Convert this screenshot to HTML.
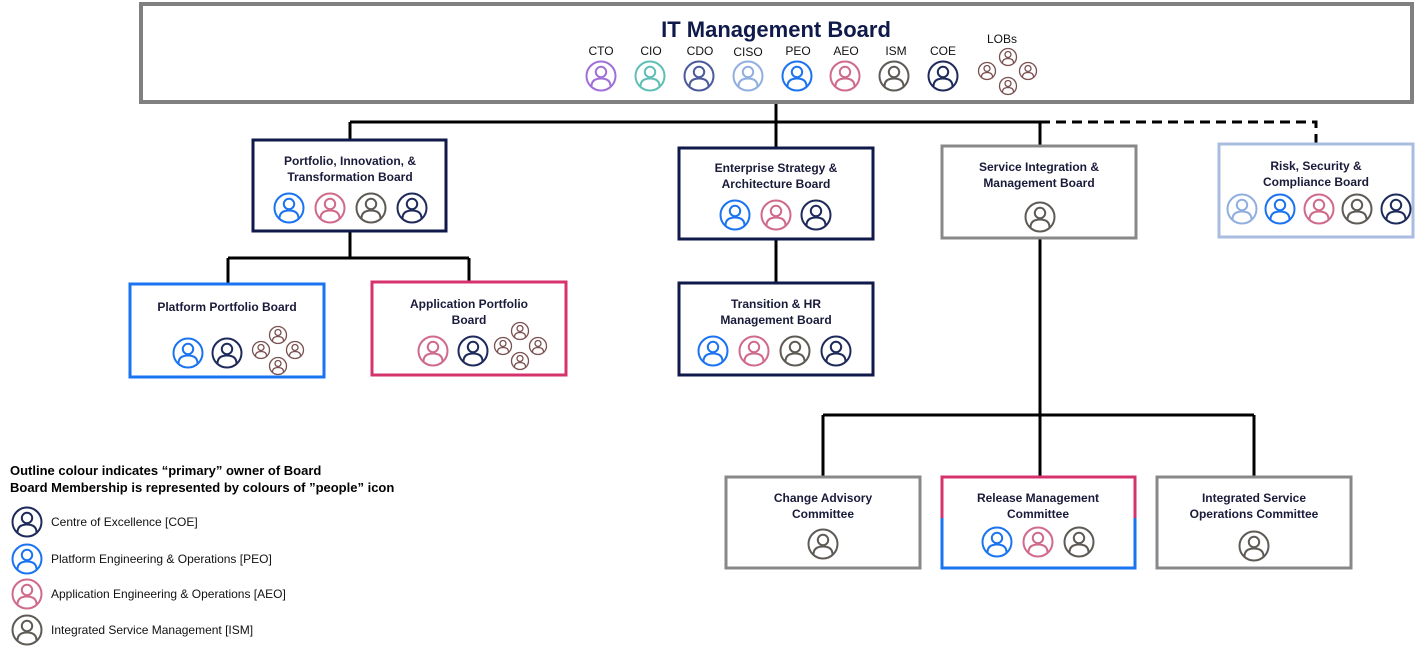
<!DOCTYPE html>
<html><head><meta charset="utf-8"><style>
html,body{margin:0;padding:0;background:#fff;}
svg{display:block;}
text{font-family:"Liberation Sans",sans-serif;}
.t{font-size:12px;font-weight:bold;fill:#1a1a3a;text-anchor:middle;}
.l{font-size:12px;fill:#111;text-anchor:middle;}
.lg{font-size:12px;fill:#111;}
</style></head><body>
<svg width="1415" height="648" viewBox="0 0 1415 648" xmlns="http://www.w3.org/2000/svg">
<defs>
<g id="p" fill="none" stroke="currentColor">
<circle r="14.5" stroke-width="2"/>
<circle cy="-4" r="5.2" stroke-width="2"/>
<path d="M-9.5,10.5 Q-9.5,2.5 0,2.5 Q9.5,2.5 9.5,10.5" stroke-width="2"/>
</g>
<g id="s" fill="none" stroke="#7a5050">
<circle r="8.5" stroke-width="1.3"/>
<circle cy="-2.5" r="3" stroke-width="1.3"/>
<path d="M-5.5,6 Q-5.5,1.5 0,1.5 Q5.5,1.5 5.5,6" stroke-width="1.3"/>
</g>
</defs>

<!-- connectors -->
<g stroke="#000" stroke-width="3" fill="none">
<path d="M776,103V122M350,122H1040M350,122V140M776,122V148M1040,122V146"/>
<path d="M350,232V258M228,258H469M228,258V285M469,258V283"/>
<path d="M776,239V283"/>
<path d="M1040,238V415M823,415H1254M823,415V477M1040,415V477M1254,415V477"/>
<path d="M1040,122H1316V143" stroke-dasharray="10,6"/>
</g>

<!-- top board -->
<rect x="141" y="4" width="1271" height="98" fill="#fff" stroke="#808080" stroke-width="4"/>
<text x="776" y="37" style="font-size:22px;font-weight:bold;fill:#0f1a4a;text-anchor:middle">IT Management Board</text>
<text class="l" x="601" y="55">CTO</text>
<text class="l" x="651" y="55">CIO</text>
<text class="l" x="700" y="55">CDO</text>
<text class="l" x="748" y="56">CISO</text>
<text class="l" x="798" y="55">PEO</text>
<text class="l" x="846" y="55">AEO</text>
<text class="l" x="896" y="55">ISM</text>
<text class="l" x="943" y="55">COE</text>
<text class="l" x="1002" y="43">LOBs</text>
<use href="#p" x="601" y="76" color="#a070d8"/>
<use href="#p" x="650" y="76" color="#5fbfb5"/>
<use href="#p" x="699" y="76" color="#4a5a9a"/>
<use href="#p" x="748" y="76" color="#90aee0"/>
<use href="#p" x="797" y="76" color="#1a73f0"/>
<use href="#p" x="845" y="76" color="#d06a8a"/>
<use href="#p" x="894" y="76" color="#5e5a55"/>
<use href="#p" x="943" y="76" color="#1e2a5a"/>
<use href="#s" x="1008" y="57"/><use href="#s" x="987" y="71"/><use href="#s" x="1028" y="71"/><use href="#s" x="1008" y="86"/>

<!-- PIT -->
<rect x="253" y="140" width="193" height="91" fill="#fff" stroke="#0f1a4a" stroke-width="3"/>
<text class="t" x="350" y="165">Portfolio, Innovation, &amp;</text>
<text class="t" x="350" y="181">Transformation Board</text>
<use href="#p" x="289" y="208" color="#1a73f0"/><use href="#p" x="330" y="208" color="#d06a8a"/><use href="#p" x="371" y="208" color="#5e5a55"/><use href="#p" x="412" y="208" color="#1e2a5a"/>

<!-- Platform -->
<rect x="130" y="284" width="194" height="93" fill="#fff" stroke="#1a73f0" stroke-width="3"/>
<text class="t" x="227" y="311">Platform Portfolio Board</text>
<use href="#p" x="188" y="353" color="#1a73f0"/><use href="#p" x="227" y="353" color="#1e2a5a"/>
<use href="#s" x="278" y="335"/><use href="#s" x="261" y="350"/><use href="#s" x="295" y="350"/><use href="#s" x="278" y="366"/>

<!-- Application -->
<rect x="372" y="282" width="194" height="93" fill="#fff" stroke="#d6336c" stroke-width="3"/>
<text class="t" x="469" y="308">Application Portfolio</text>
<text class="t" x="469" y="324">Board</text>
<use href="#p" x="433" y="351" color="#d06a8a"/><use href="#p" x="473" y="351" color="#1e2a5a"/>
<use href="#s" x="520" y="331"/><use href="#s" x="503" y="346"/><use href="#s" x="538" y="346"/><use href="#s" x="520" y="361"/>

<!-- ESA -->
<rect x="679" y="148" width="194" height="91" fill="#fff" stroke="#0f1a4a" stroke-width="3"/>
<text class="t" x="776" y="172">Enterprise Strategy &amp;</text>
<text class="t" x="776" y="188">Architecture Board</text>
<use href="#p" x="735" y="215" color="#1a73f0"/><use href="#p" x="776" y="215" color="#d06a8a"/><use href="#p" x="816" y="215" color="#1e2a5a"/>

<!-- Transition -->
<rect x="679" y="283" width="194" height="92" fill="#fff" stroke="#0f1a4a" stroke-width="3"/>
<text class="t" x="776" y="308">Transition &amp; HR</text>
<text class="t" x="776" y="324">Management Board</text>
<use href="#p" x="713" y="351" color="#1a73f0"/><use href="#p" x="754" y="351" color="#d06a8a"/><use href="#p" x="795" y="351" color="#5e5a55"/><use href="#p" x="836" y="351" color="#1e2a5a"/>

<!-- SIM -->
<rect x="942" y="146" width="194" height="92" fill="#fff" stroke="#888" stroke-width="3"/>
<text class="t" x="1039" y="171">Service Integration &amp;</text>
<text class="t" x="1039" y="187">Management Board</text>
<use href="#p" x="1040" y="217" color="#5e5a55"/>

<!-- RSC -->
<rect x="1219" y="144" width="194" height="93" fill="#fff" stroke="#a8bde0" stroke-width="3"/>
<text class="t" x="1316" y="170">Risk, Security &amp;</text>
<text class="t" x="1316" y="186">Compliance Board</text>
<use href="#p" x="1242" y="209" color="#90aee0"/><use href="#p" x="1280" y="209" color="#1a73f0"/><use href="#p" x="1319" y="209" color="#d06a8a"/><use href="#p" x="1357" y="209" color="#5e5a55"/><use href="#p" x="1396" y="209" color="#1e2a5a"/>

<!-- Change Advisory -->
<rect x="726" y="477" width="194" height="91" fill="#fff" stroke="#888" stroke-width="3"/>
<text class="t" x="823" y="502">Change Advisory</text>
<text class="t" x="823" y="518">Committee</text>
<use href="#p" x="823" y="544" color="#5e5a55"/>

<!-- Release -->
<rect x="942" y="477" width="193" height="91" fill="#fff" stroke="none"/>
<path d="M942,518V477H1135V518" fill="none" stroke="#d6336c" stroke-width="3"/>
<path d="M942,518V568H1135V518" fill="none" stroke="#1a73f0" stroke-width="3"/>
<text class="t" x="1038" y="502">Release Management</text>
<text class="t" x="1038" y="518">Committee</text>
<use href="#p" x="997" y="542" color="#1a73f0"/><use href="#p" x="1038" y="542" color="#d06a8a"/><use href="#p" x="1079" y="542" color="#5e5a55"/>

<!-- Integrated -->
<rect x="1157" y="477" width="194" height="91" fill="#fff" stroke="#888" stroke-width="3"/>
<text class="t" x="1254" y="502">Integrated Service</text>
<text class="t" x="1254" y="518">Operations Committee</text>
<use href="#p" x="1254" y="546" color="#5e5a55"/>

<!-- legend -->
<text x="10" y="475" style="font-size:13px;font-weight:bold;fill:#000">Outline colour indicates “primary” owner of Board</text>
<text x="10" y="492" style="font-size:13px;font-weight:bold;fill:#000">Board Membership is represented by colours of ”people” icon</text>
<use href="#p" x="27" y="522" color="#1e2a5a"/><text class="lg" x="51" y="526">Centre of Excellence [COE]</text>
<use href="#p" x="27" y="559" color="#1a73f0"/><text class="lg" x="51" y="563">Platform Engineering  &amp; Operations [PEO]</text>
<use href="#p" x="27" y="594" color="#d06a8a"/><text class="lg" x="51" y="598">Application Engineering &amp; Operations [AEO]</text>
<use href="#p" x="27" y="630" color="#5e5a55"/><text class="lg" x="51" y="634">Integrated Service Management  [ISM]</text>
</svg>
</body></html>
